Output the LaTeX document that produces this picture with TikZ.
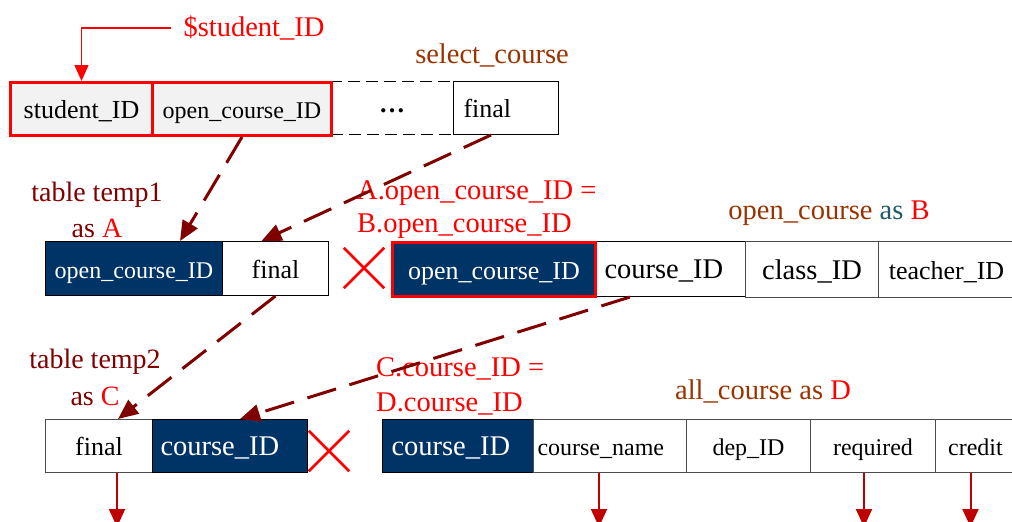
\documentclass[tikz,border=0pt]{standalone}
\usepackage{fontspec}
\setmainfont{Liberation Serif}
\usetikzlibrary{arrows.meta,shapes.misc,calc}
\definecolor{navy}{HTML}{003366}
\definecolor{dred}{HTML}{800000}
\definecolor{brn}{HTML}{993300}
\definecolor{tealc}{HTML}{215968}
\definecolor{cellgray}{HTML}{F2F2F2}
\definecolor{arrred}{HTML}{C00000}
\newcommand{\fA}{\fontsize{24}{28}\selectfont}
\newcommand{\fB}{\fontsize{26}{30}\selectfont}
\newcommand{\fC}{\fontsize{28.5}{32}\selectfont}
\begin{document}
\begin{tikzpicture}[x=1pt,y=-1pt,
  cell/.style={draw=black, line width=1pt, inner sep=0pt, anchor=north west,
    text height=19pt, text depth=0pt},
  redframe/.style={draw=red, line width=3pt},
  navycell/.style={fill=navy, text=white},
  lab/.style={inner sep=0pt, font=\fC},
  conn/.style={draw=dred, line width=3pt, dash pattern=on 30pt off 14pt,
    -{Triangle[length=20pt,width=17pt]}},
  botarr/.style={draw=arrred, line width=2pt, -{Triangle[length=18pt,width=16pt]}},
  xmark/.style={cross out, draw=red, line width=2.5pt, minimum size=38pt, inner sep=0pt}
]
\useasboundingbox (0,0) rectangle (1012,522);

% ---------- row 1: select_course ----------
\node[cell, draw=black, line width=1.2pt, dash pattern=on 12pt off 6pt, minimum width=123pt, minimum height=53pt, font=\fB] (s3) at (330,81) {\raisebox{5pt}{\textbf{…}}};
\node[cell, redframe, fill=cellgray, minimum width=142pt, minimum height=53pt, font=\fB] (s1) at (9,81) {student\_ID};
\node[cell, redframe, fill=cellgray, minimum width=179pt, minimum height=53pt, font=\fA] (s2) at (151,81) {open\_course\_ID};
\node[cell, minimum width=105pt, minimum height=53pt, text width=85pt, inner xsep=10pt, align=left, font=\fB] (s4) at (453,81) {final};

% ---------- row 2: temp1 and open_course ----------
\node[cell, navycell, minimum width=177pt, minimum height=54pt, font=\fA] (a1) at (45,241) {open\_course\_ID};
\node[cell, minimum width=106pt, minimum height=54pt, font=\fB] (a2) at (222,241) {final};
\node[cell, minimum width=151pt, minimum height=55pt, text width=131pt, inner xsep=10pt, align=left, font=\fC] (b2) at (594,241) {course\_ID};
\node[cell, draw=black!70, minimum width=133pt, minimum height=56pt, font=\fC] (b3) at (745,241) {class\_ID};
\node[cell, draw=black!70, minimum width=136pt, minimum height=56pt, font=\fB] (b4) at (878,241) {teacher\_ID};
\node[cell, navycell, redframe, minimum width=203pt, minimum height=54pt, font=\fB] (b1) at (391,241) {open\_course\_ID};

% ---------- row 3: temp2 and all_course ----------
\node[cell, draw=black!70, minimum width=107pt, minimum height=53pt, font=\fB] (c1) at (45,419) {final};
\node[cell, navycell, minimum width=155pt, minimum height=53pt, text width=139pt, inner xsep=8pt, align=left, font=\fC] (c2) at (152,419) {course\_ID};
\node[cell, navycell, minimum width=151pt, minimum height=53pt, text width=133pt, inner xsep=9pt, align=left, font=\fC] (d1) at (382,419) {course\_ID};
\node[cell, draw=black!70, minimum width=153pt, minimum height=53pt, text width=145pt, inner xsep=4pt, align=left, font=\fA] (d2) at (533,419) {course\_name};
\node[cell, draw=black!70, minimum width=124pt, minimum height=53pt, font=\fA] (d3) at (686,419) {dep\_ID};
\node[cell, draw=black!70, minimum width=125pt, minimum height=53pt, font=\fA] (d4) at (810,419) {required};
\node[cell, draw=black!70, minimum width=80pt, minimum height=53pt, font=\fA] (d5) at (935,419) {credit};

% ---------- cross marks ----------
\node[xmark] (x1) at (364,268) {};
\node[xmark] (x2) at (329,451) {};

% ---------- labels ----------
\node[lab, text=red] (lstu) at (254,28) {\$student\_ID};
\node[lab, text=brn] (lsel) at (492,55) {select\_course};
\node[lab, text=dred, align=center, font=\fontsize{28}{36}\selectfont] (lt1) at (97,210) {table temp1\\as \textcolor{red}{A}};
\node[lab, text=red, align=left, anchor=west, font=\fontsize{28.5}{33}\selectfont] (lab1) at (357,210) {A.open\_course\_ID =\\B.open\_course\_ID};
\node[lab] (lB) at (829,213) {\textcolor{brn}{open\_course} \textcolor{tealc}{as} \textcolor{red}{B}};
\node[lab, text=dred, align=center, font=\fontsize{28}{37}\selectfont] (lt2) at (95,377) {table temp2\\as \textcolor{red}{C}};
\node[lab, text=red, align=left, anchor=west, font=\fontsize{28.5}{35}\selectfont] (lcd) at (376,386) {C.course\_ID =\\D.course\_ID};
\node[lab] (lD) at (763,391) {\textcolor{brn}{all\_course as} \textcolor{red}{D}};

% ---------- connectors ----------
\draw[red, line width=1.5pt, shorten <=12pt, -{Triangle[length=16pt,width=14pt]}] (lstu.west) -| (s1.north);
\draw[conn] (s2.south) -- ([xshift=46pt]a1.north);
\draw[conn] ([xshift=-15pt]s4.south) -- ([xshift=-14pt]a2.north);
\draw[conn] (a2.south) -- ([xshift=19pt]c1.north);
\draw[conn] ([xshift=-40pt]b2.south) -- ([xshift=10pt]c2.north);

\draw[botarr] ([xshift=18pt]c1.south) -- ++(0,54);
\draw[botarr] ([xshift=-11pt]d2.south) -- ++(0,54);
\draw[botarr] ([xshift=-9pt]d4.south) -- ++(0,54);
\draw[botarr] ([xshift=-5pt]d5.south) -- ++(0,54);
\end{tikzpicture}
\end{document}
